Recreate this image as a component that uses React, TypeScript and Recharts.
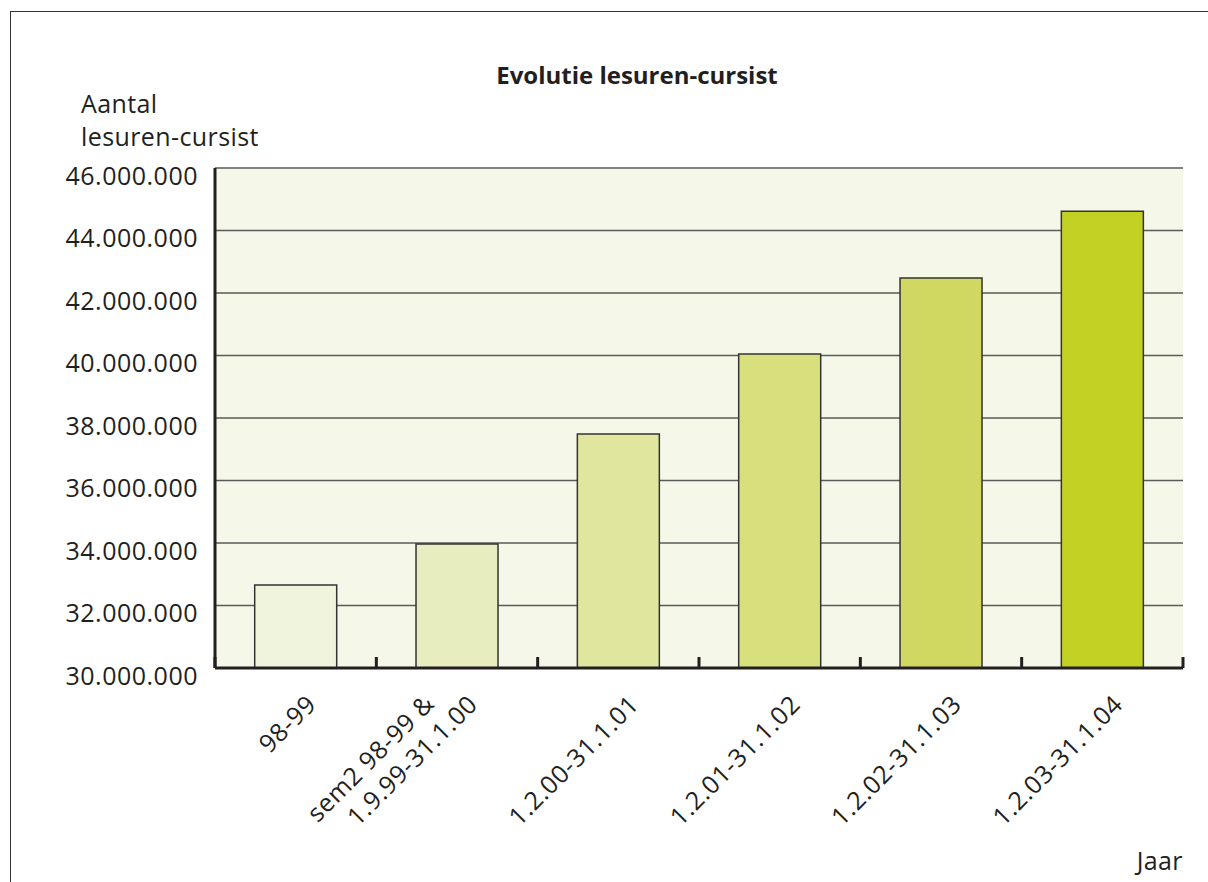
import React from "react";
import {
  BarChart, Bar, XAxis, YAxis, CartesianGrid, Cell,
} from "recharts";

// periods (multi-line labels split on \n)
const periods = [
  "98-99",
  "sem2 98-99 &\n1.9.99-31.1.00",
  "1.2.00-31.1.01",
  "1.2.01-31.1.02",
  "1.2.02-31.1.03",
  "1.2.03-31.1.04",
];

// lesuren-cursist per period
const lesuren = [32660000, 33970000, 37490000, 40050000, 42480000, 44620000];

const barColors = ["#F1F4DC", "#E8EDC0", "#E0E69D", "#D8E07E", "#D0D862", "#C3D125"];

const yTicks = [30000000, 32000000, 34000000, 36000000, 38000000, 40000000, 42000000, 44000000, 46000000];

const data = periods.map((period, i) => ({ period, lesuren: lesuren[i] }));

const FONT = "'Open Sans', 'Noto Sans', sans-serif";
const INK = "#231F20";

const fmt = (v: number) => String(v).replace(/\B(?=(\d{3})+(?!\d))/g, ".");

function PeriodTick(props: any) {
  const { x, y, payload, index } = props;
  const half = payload?.offset ?? 0;
  const lines = String(payload.value).split("\n");
  const last = lines.length - 1;
  return (
    <g>
      <line x1={x - half} x2={x - half} y1={y} y2={y - 11} stroke={INK} strokeWidth={3} />
      {index === periods.length - 1 && (
        <line x1={x + half} x2={x + half} y1={y} y2={y - 11} stroke={INK} strokeWidth={3} />
      )}
      <g transform={`translate(${x + 22},${y + 38}) rotate(-45)`}>
        {lines.map((line, i) => (
          <text
            key={i}
            x={-30 * (last - i)}
            y={-31 * (last - i)}
            textAnchor="end"
            fontSize={25}
            letterSpacing={0.6}
            fontFamily={FONT}
            fill={INK}
          >
            {line}
          </text>
        ))}
      </g>
    </g>
  );
}

export default function App() {
  return (
    <div style={{ position: "absolute", left: 0, top: 0, width: 1208, height: 882, background: "#fff", overflow: "hidden" }}>
      <div
        style={{
          position: "absolute", left: 10, top: 11, width: 1300, height: 1000,
          borderLeft: "1.5px solid #333", borderTop: "1.5px solid #333",
        }}
      />
      <div style={{ position: "absolute", left: 0, top: 0 }}>
        <BarChart
          width={1208}
          height={882}
          data={data}
          margin={{ top: 168, right: 25, bottom: 184, left: 0 }}
          barCategoryGap="24.6%"
        >
          <CartesianGrid vertical={false} stroke="#5a5a5a" strokeWidth={1.5} fill="#F5F8E9" fillOpacity={1} />
          <XAxis
            dataKey="period"
            height={30}
            interval={0}
            tickLine={false}
            tickSize={0}
            tickMargin={0}
            axisLine={{ stroke: INK, strokeWidth: 3 }}
            tick={<PeriodTick />}
          />
          <YAxis
            width={215}
            domain={[30000000, 46000000]}
            ticks={yTicks}
            interval={0}
            tickFormatter={fmt}
            tickLine={false}
            tickSize={0}
            tickMargin={17}
            axisLine={{ stroke: INK, strokeWidth: 3 }}
            tick={{ fontSize: 25, fill: INK, fontFamily: FONT, letterSpacing: 0.5, dy: 8 }}
          />
          <YAxis
            yAxisId="frame"
            orientation="right"
            width={0}
            domain={[30000000, 46000000]}
            tick={false}
            tickLine={false}
            axisLine={{ stroke: INK, strokeWidth: 2.5 }}
          />
          <Bar dataKey="lesuren" stroke="#333" strokeWidth={1.5} isAnimationActive={false}>
            {data.map((d, i) => (
              <Cell key={d.period} fill={barColors[i]} />
            ))}
          </Bar>
          <text x={637} y={84} textAnchor="middle" fontSize={24} fontWeight="bold" fontFamily={FONT} fill={INK}>
            Evolutie lesuren-cursist
          </text>
          <text x={81} y={113} fontSize={25} letterSpacing={0.4} fontFamily={FONT} fill={INK}>Aantal</text>
          <text x={81} y={146} fontSize={25} letterSpacing={0.4} fontFamily={FONT} fill={INK}>lesuren-cursist</text>
          <text x={1183} y={870} textAnchor="end" fontSize={25} letterSpacing={0.4} fontFamily={FONT} fill={INK}>Jaar</text>
        </BarChart>
      </div>
    </div>
  );
}
